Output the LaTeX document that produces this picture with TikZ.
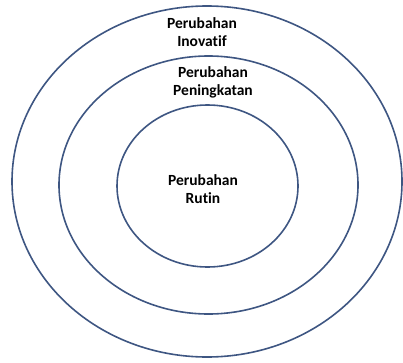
\documentclass[tikz,border=0pt]{standalone}
\usepackage{fontspec}
\newfontfamily\lblfont{Carlito Bold}[Ligatures=NoCommon]
\definecolor{ringc}{RGB}{62,86,130}
\begin{document}
\begin{tikzpicture}[x=1pt,y=1pt,
  ring/.style={draw=ringc,line width=1.6pt},
  lbl/.style={align=center,font=\lblfont\fontsize{15.5}{18}\selectfont,text=black,inner sep=0pt}]
\useasboundingbox (0,0) rectangle (403,362);
\draw[ring] (207,180.5) ellipse [x radius=195,y radius=175.5];
\draw[ring] (208.5,177) ellipse [x radius=149.5,y radius=129];
\draw[ring] (207.5,176) ellipse [x radius=90.5,y radius=81];
\node[lbl] (outer) at (202,329.5) {Perubahan\\Inovatif};
\node[lbl] (middle) at (213,280) {Perubahan\\Peningkatan};
\node[lbl] (inner) at (203,173) {Perubahan\\Rutin};
\end{tikzpicture}
\end{document}
